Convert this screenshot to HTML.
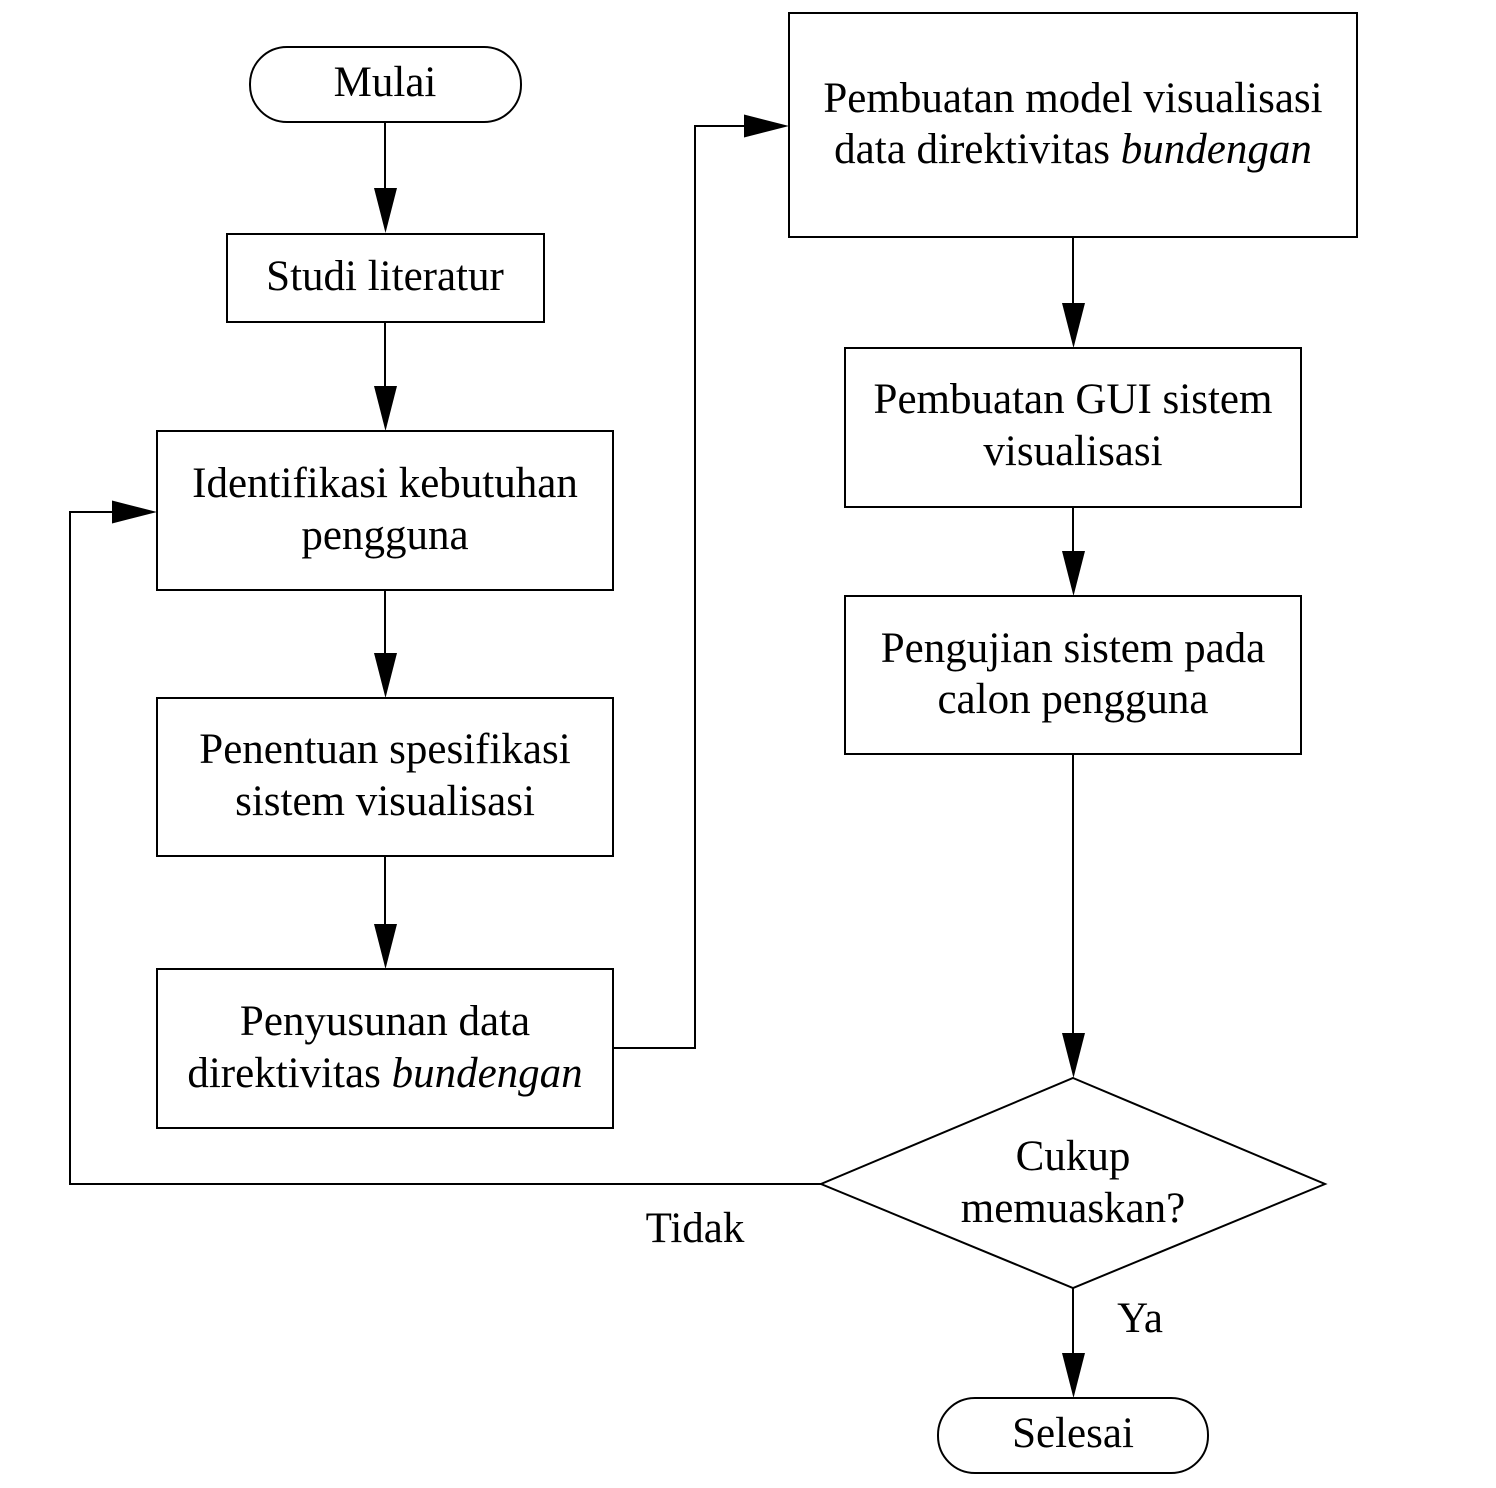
<!DOCTYPE html>
<html><head><meta charset="utf-8"><style>
html,body{margin:0;padding:0;background:#fff;}
svg{display:block;}
text{font-family:"Liberation Serif",serif;font-size:43px;fill:#000;}
</style></head><body>
<svg width="1496" height="1488" viewBox="0 0 1496 1488" xmlns="http://www.w3.org/2000/svg">
<defs>
<marker id="a" markerUnits="userSpaceOnUse" markerWidth="24" markerHeight="46" refX="11.5" refY="45" orient="auto-start-reverse" viewBox="0 0 23 46">
</marker>
</defs>
<g fill="none" stroke="#000" stroke-width="2">
<rect x="250" y="47" width="271" height="75" rx="37"/>
<rect x="227" y="234" width="317" height="88"/>
<rect x="157" y="431" width="456" height="159"/>
<rect x="157" y="698" width="456" height="158"/>
<rect x="157" y="969" width="456" height="159"/>
<rect x="789" y="13" width="568" height="224"/>
<rect x="845" y="348" width="456" height="159"/>
<rect x="845" y="596" width="456" height="158"/>
<polygon points="1073,1078 1325,1184 1073,1288 821,1184"/>
<rect x="938" y="1398" width="270" height="75" rx="37"/>
<line x1="385" y1="122" x2="385" y2="200"/>
<line x1="385" y1="322" x2="385" y2="400"/>
<line x1="385" y1="590" x2="385" y2="665"/>
<line x1="385" y1="856" x2="385" y2="935"/>
<polyline points="613,1048 695,1048 695,126 755,126"/>
<line x1="1073" y1="237" x2="1073" y2="315"/>
<line x1="1073" y1="507" x2="1073" y2="565"/>
<line x1="1073" y1="754" x2="1073" y2="1045"/>
<polyline points="821,1184 70,1184 70,512 125,512"/>
<line x1="1073" y1="1288" x2="1073" y2="1365"/>
</g>
<g fill="#000">
<polygon points="374,188 397,188 385.5,233"/>
<polygon points="374,386 397,386 385.5,431"/>
<polygon points="374,653 397,653 385.5,698"/>
<polygon points="374,924 397,924 385.5,969"/>
<polygon points="744,114.5 744,137.5 789,126"/>
<polygon points="1062,303 1085,303 1073.5,348"/>
<polygon points="1062,551 1085,551 1073.5,596"/>
<polygon points="1062,1033 1085,1033 1073.5,1078"/>
<polygon points="112,500.5 112,523.5 157,512"/>
<polygon points="1062,1353 1085,1353 1073.5,1398"/>
</g>
<g text-anchor="middle">
<text x="385" y="96">Mulai</text>
<text x="385" y="290">Studi literatur</text>
<text x="385" y="497">Identifikasi kebutuhan</text>
<text x="385" y="549">pengguna</text>
<text x="385" y="763">Penentuan spesifikasi</text>
<text x="385" y="815">sistem visualisasi</text>
<text x="385" y="1035">Penyusunan data</text>
<text x="385" y="1087">direktivitas <tspan font-style="italic">bundengan</tspan></text>
<text x="1073" y="112">Pembuatan model visualisasi</text>
<text x="1073" y="163">data direktivitas <tspan font-style="italic">bundengan</tspan></text>
<text x="1073" y="413">Pembuatan GUI sistem</text>
<text x="1073" y="465">visualisasi</text>
<text x="1073" y="662">Pengujian sistem pada</text>
<text x="1073" y="713">calon pengguna</text>
<text x="1073" y="1170">Cukup</text>
<text x="1073" y="1222">memuaskan?</text>
<text x="695" y="1242">Tidak</text>
<text x="1140" y="1332">Ya</text>
<text x="1073" y="1447">Selesai</text>
</g>
</svg>
</body></html>
